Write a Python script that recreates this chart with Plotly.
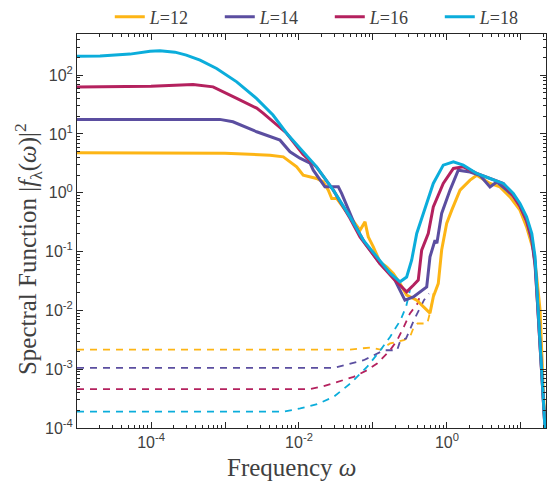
import plotly.graph_objects as go

# ---- data ----
labels = ["<i>L</i>=12", "<i>L</i>=14", "<i>L</i>=16", "<i>L</i>=18"]
colors = ["#FDB515", "#5B4EA0", "#B4215E", "#0BADDB"]

# solid curves: spectral function |f_lambda(omega)|^2
w12 = [1e-5, 1e-4, 1e-3, 4.06e-3, 6.14e-3, 9.3e-3, 0.0114, 0.0173, 0.0213, 0.0249, 0.0277, 0.0323,
       0.0378, 0.0542, 0.0667, 0.078, 0.0863, 0.101, 0.124, 0.153, 0.188, 0.232, 0.285, 0.39,
       0.532, 0.589, 0.653, 0.762, 0.847, 0.99, 1.16, 1.5, 2.05, 2.52, 3.81, 5.2, 7.1, 9.69,
       11.9, 14.7, 16.3, 18.1, 20.0, 21.8]
s12 = [4.78, 4.78, 4.72, 4.36, 4.08, 2.76, 1.99, 1.75, 1.53, 1.11, 0.8, 0.8,
       0.615, 0.342, 0.231, 0.32, 0.178, 0.12, 0.0668, 0.055, 0.0425, 0.0286, 0.0182, 0.0149,
       0.0101, 0.009, 0.017, 0.0286, 0.106, 0.3, 0.506, 1.11, 1.64, 1.99, 1.44, 1.26, 0.851, 0.506,
       0.263, 0.106, 0.037, 0.0101, 4.4e-4, 5e-5]

w14 = [1e-5, 1e-4, 8.5e-4, 1.28e-3, 2.68e-3, 5.54e-3, 7.56e-3, 1.03e-2, 1.41e-2, 0.0156, 0.0224,
       0.0277, 0.034, 0.0378, 0.057, 0.078, 0.124, 0.188, 0.27, 0.351, 0.532, 0.589, 0.689, 0.73,
       0.847, 1.10, 1.42, 2.05, 2.79, 3.81, 4.7, 6.41, 7.87, 9.69, 11.9, 14.0, 15.5, 17.1, 20.0, 21.8]
s14 = [17.7, 17.7, 17.7, 16.1, 10.9, 7.85, 4.97, 3.88, 3.19, 2.42, 1.26,
       1.26, 1.26, 0.97, 0.281, 0.139, 0.0628, 0.0372, 0.0149, 0.017, 0.0251, 0.0813, 0.156, 0.139,
       0.445, 1.11, 2.42, 2.26, 1.99, 1.26, 1.53, 1.11, 0.875, 0.59, 0.329, 0.156, 0.0587, 0.0083, 4.1e-4, 5e-5]

w16 = [1e-5, 1e-4, 3.7e-4, 6.9e-4, 1.44e-3, 2.68e-3, 3.27e-3, 4.45e-3, 6.8e-3, 1.13e-2, 1.73e-2,
       0.0291, 0.0489, 0.0667, 0.124, 0.188, 0.285, 0.351, 0.409, 0.455, 0.558, 0.653, 0.89, 1.22,
       1.66, 2.52, 4.23, 5.77, 7.87, 9.69, 11.9, 14.0, 15.5, 17.1, 20.0, 21.8]
s16 = [63.2, 64.5, 69.5, 63.2, 40.2, 27.5, 22.6, 16.1, 10.3, 4.53, 2.72,
       1.11, 0.37, 0.178, 0.0628, 0.0349, 0.0207, 0.0268, 0.0327, 0.106, 0.203, 0.576, 1.44, 2.59,
       2.76, 2.13, 1.64, 1.44, 0.875, 0.59, 0.342, 0.169, 0.066, 0.0095, 4.4e-4, 5e-5]

w18 = [1e-5, 2.05e-5, 5.2e-5, 9.7e-5, 1.32e-4, 2.11e-4, 3.0e-4, 4.6e-4, 7.7e-4, 1.44e-3, 2.68e-3,
       4.45e-3, 6.8e-3, 1.13e-2, 1.73e-2, 2.91e-2, 4.89e-2, 7.4e-2, 0.112, 0.170, 0.232, 0.285,
       0.333, 0.39, 0.479, 0.653, 0.89, 1.22, 1.66, 2.52, 3.81, 5.77, 7.87, 9.69, 11.9, 14.0,
       15.5, 17.1, 20.0, 21.8]
s18 = [210, 211, 228, 256, 259, 246, 219, 180, 130, 77, 40,
       21, 10.3, 5.0, 2.76, 1.11, 0.389, 0.156, 0.081, 0.043, 0.0306, 0.037,
       0.0714, 0.203, 0.445, 1.44, 2.95, 3.35, 2.95, 2.13, 1.75, 1.44, 0.97, 0.658, 0.389, 0.203,
       0.081, 0.0101, 5.8e-4, 5e-5]

# dashed curves
dw12 = [1e-5, 1e-3, 4.89e-2, 0.0923, 0.126, 0.170, 0.261, 0.316, 0.357, 0.40, 0.542, 0.60, 0.66]
ds12 = [2.16e-3, 2.16e-3, 2.16e-3, 2.34e-3, 2.16e-3, 2.74e-3, 3.11e-3, 3.54e-3, 5.24e-3, 5.98e-3,
        5.98e-3, 0.0101, 0.0196]
dw14 = [1e-5, 1e-3, 0.0294, 0.0748, 0.14, 0.212, 0.235, 0.28, 0.357, 0.488, 0.569]
ds14 = [1.05e-3, 1.05e-3, 1.05e-3, 1.42e-3, 2.1e-3, 2.1e-3, 3.11e-3, 3.33e-3, 6.8e-3, 0.0149, 0.0194]
dw16 = [1e-5, 1e-3, 0.0142, 0.0215, 0.0401, 0.0548, 0.083, 0.1135, 0.170, 0.212, 0.261, 0.316, 0.40, 0.44]
ds16 = [4.6e-4, 4.6e-4, 4.6e-4, 5.14e-4, 6.5e-4, 7.4e-4, 9.6e-4, 1.25e-3, 2.1e-3, 3.11e-3, 5.24e-3,
        8.9e-3, 0.0131, 0.0194]
dw18 = [1e-5, 1e-3, 6.15e-3, 0.0104, 0.0176, 0.0294, 0.0493, 0.083, 0.126, 0.170, 0.235, 0.28, 0.316]
ds18 = [1.9e-4, 1.9e-4, 1.9e-4, 2.15e-4, 2.54e-4, 3.38e-4, 5.7e-4, 1.09e-3, 2.1e-3, 3.54e-3, 6.8e-3,
        0.0115, 0.0221]

solid_w = [w12, w14, w16, w18]
solid_s = [s12, s14, s16, s18]
dash_w = [dw12, dw14, dw16, dw18]
dash_s = [ds12, ds14, ds16, ds18]

xtick_vals = [1e-5, 1e-4, 1e-3, 1e-2, 1e-1, 1e0, 1e1]
xtick_text = ["", "10<sup>-4</sup>", "", "10<sup>-2</sup>", "", "10<sup>0</sup>", ""]
ytick_vals = [1e-4, 1e-3, 1e-2, 1e-1, 1e0, 1e1, 1e2]
ytick_text = ["10<sup>-4</sup>", "10<sup>-3</sup>", "10<sup>-2</sup>", "10<sup>-1</sup>",
              "10<sup>0</sup>", "10<sup>1</sup>", "10<sup>2</sup>"]
x_title = "Frequency <i>ω</i>"
y_title = "Spectral Function |<i>f</i><sub>λ</sub>(<i>ω</i>)|<sup>2</sup>"

fig = go.Figure()
for w, s, c in zip(dash_w, dash_s, colors):
    fig.add_trace(go.Scatter(x=w, y=s, mode="lines", showlegend=False,
                             line=dict(color=c, width=1.8, dash="7px,6px")))
for w, s, c, lab in zip(solid_w, solid_s, colors, labels):
    fig.add_trace(go.Scatter(x=w, y=s, mode="lines", name=lab,
                             line=dict(color=c, width=3)))

axis_common = dict(
    showline=True, linecolor="#262626", linewidth=1, mirror="allticks",
    ticks="inside", ticklen=6, tickcolor="#262626", showgrid=False, zeroline=False,
    tickfont=dict(family="Liberation Sans, Arial, sans-serif", size=16, color="#404040"),
    minor=dict(ticks="inside", ticklen=3, tickcolor="#262626", dtick="D1", showgrid=False),
)
title_font = dict(family="Liberation Serif, serif", size=25, color="#404040")

fig.update_layout(
    width=549, height=481,
    margin=dict(l=77, r=3, t=34, b=53, autoexpand=False),
    paper_bgcolor="white", plot_bgcolor="white",
    hovermode=False,
    xaxis=dict(type="log", range=[-5, 1.338], tickmode="array", tickvals=xtick_vals,
               ticktext=xtick_text, automargin=False, **axis_common),
    yaxis=dict(type="log", range=[-4, 2.7], tickmode="array", tickvals=ytick_vals,
               ticktext=ytick_text, automargin=False, **axis_common),
    legend=dict(orientation="h", x=0.539, xanchor="center", y=1.043, yanchor="middle",
                entrywidth=65, entrywidthmode="pixels", bgcolor="rgba(0,0,0,0)",
                font=dict(family="Liberation Serif, serif", size=18, color="#404040"),
                tracegroupgap=0, itemwidth=30),
    annotations=[
        dict(text=x_title, xref="paper", yref="paper", x=0.4584, y=-0.099,
             xanchor="center", yanchor="middle", showarrow=False, font=title_font),
        dict(text=y_title, xref="paper", yref="paper", x=-0.1045, y=0.454, textangle=-90,
             xanchor="center", yanchor="middle", showarrow=False, font=title_font),
    ],
)

fig.write_html("out.html", config={"displayModeBar": False, "staticPlot": True},
               post_script="document.body.style.margin='0';document.body.style.overflow='hidden';")
